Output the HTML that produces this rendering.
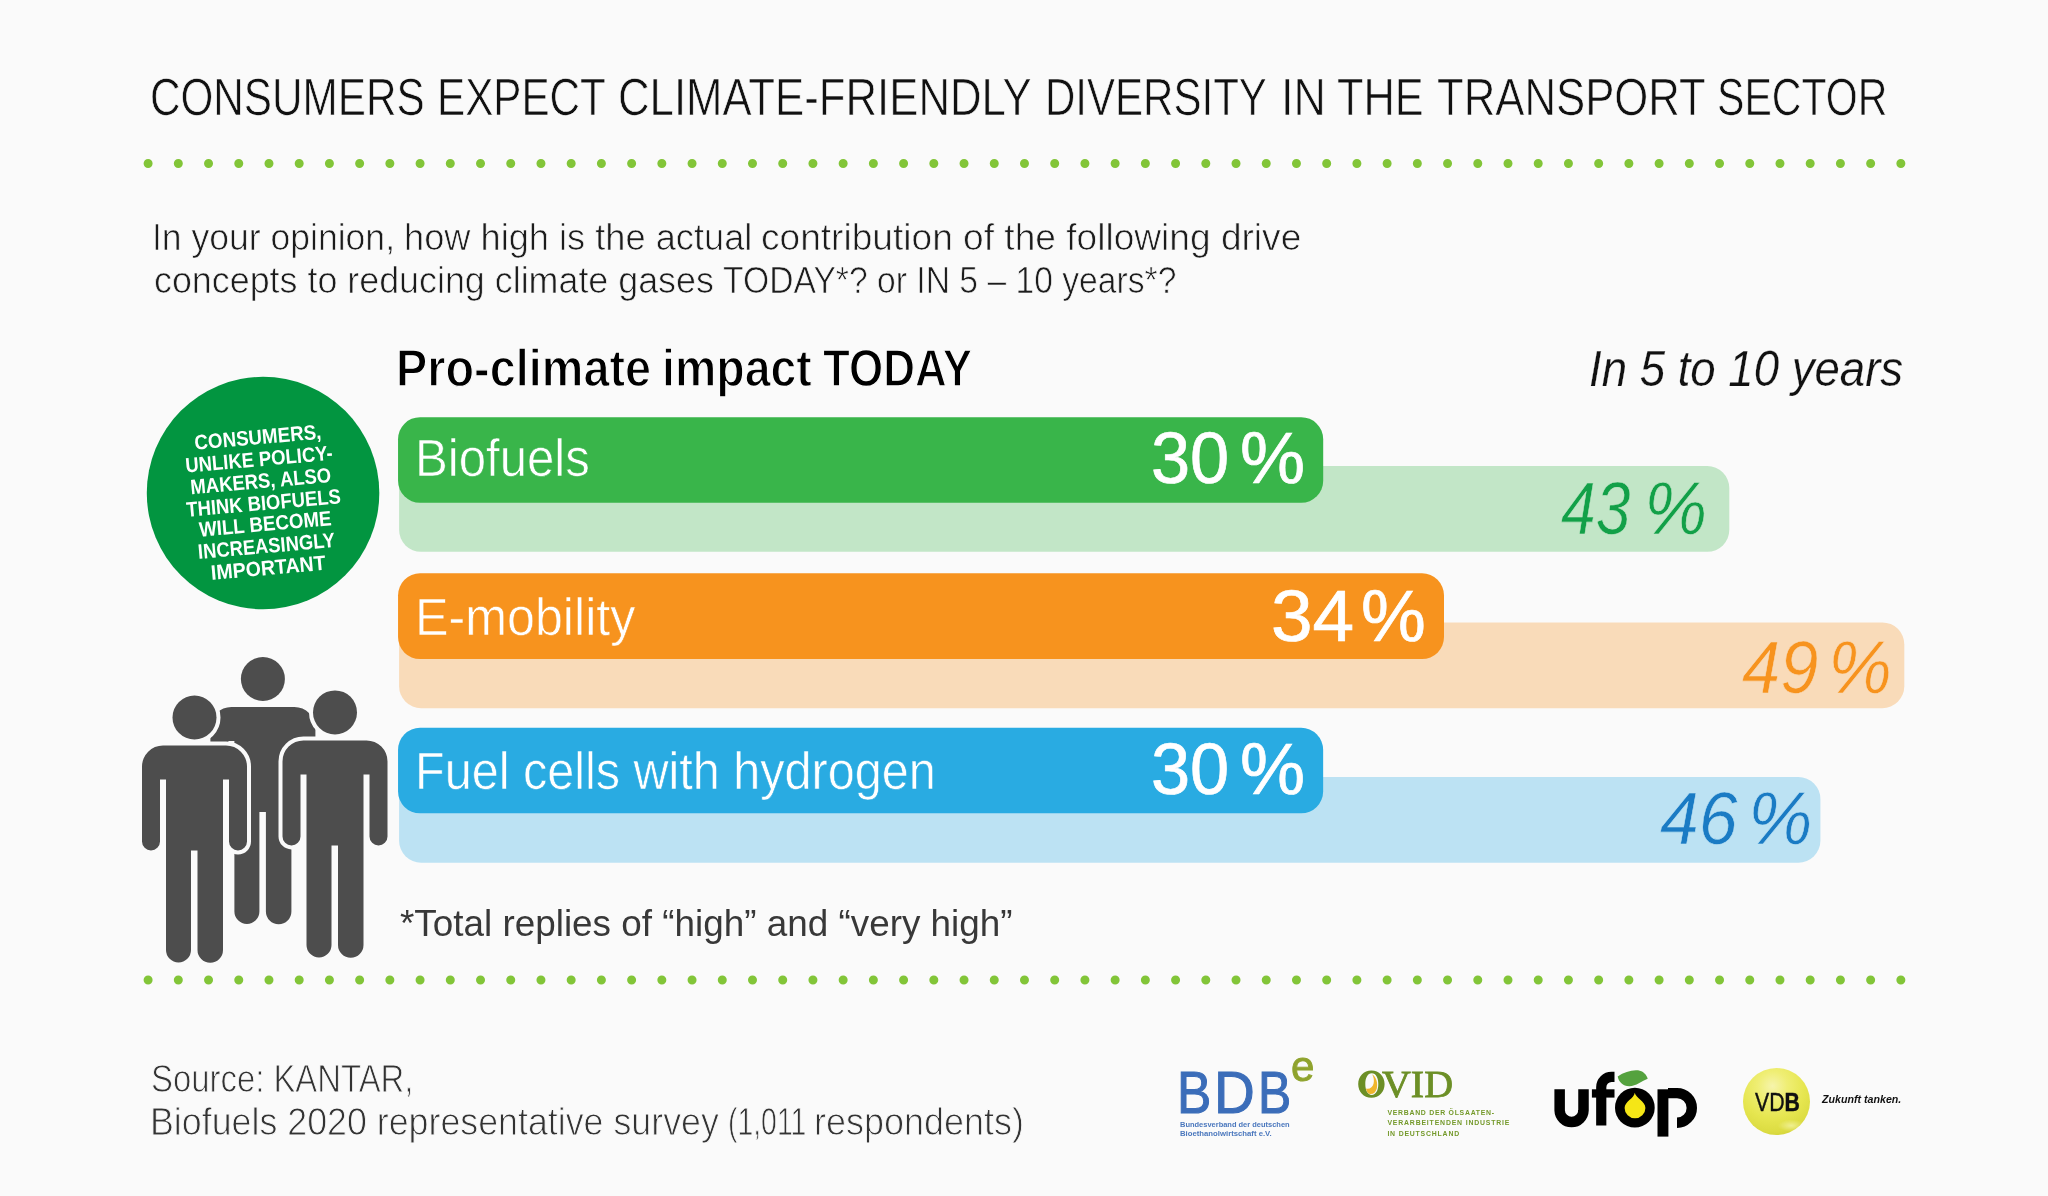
<!DOCTYPE html>
<html lang="en">
<head>
<meta charset="utf-8">
<title>Consumers expect climate-friendly diversity in the transport sector</title>
<style>
html,body{margin:0;padding:0;}
body{background:#fafafa;width:2048px;height:1196px;overflow:hidden;font-family:"Liberation Sans",sans-serif;}
#page{position:absolute;left:0;top:0;width:2048px;height:1196px;overflow:hidden;will-change:transform;}
.t{position:absolute;white-space:nowrap;line-height:1;transform-origin:0 0;color:#111;}
svg{position:absolute;overflow:visible;}

</style>
</head>
<body>
<div id="page">
<!-- dotted rules -->
<svg width="2048" height="1196" viewBox="0 0 2048 1196" style="left:0;top:0">
  <line x1="148.1" y1="163.5" x2="1901.5" y2="163.5" stroke="#82c538" stroke-width="9" stroke-linecap="round" stroke-dasharray="0 30.22"/>
  <line x1="148.1" y1="980" x2="1901.5" y2="980" stroke="#82c538" stroke-width="9" stroke-linecap="round" stroke-dasharray="0 30.22"/>
</svg>

<!-- bars: light (future) first, then solid (today) -->
<svg width="2048" height="1196" viewBox="0 0 2048 1196" style="left:0;top:0">
  <rect x="399.1" y="466.05" width="1330.2" height="85.8" rx="22" fill="#c2e6c7"/>
  <rect x="398.05" y="417.2" width="925.15" height="85.6" rx="22" fill="#39b54a"/>
  <rect x="399.1" y="622.4" width="1505.2" height="85.8" rx="22" fill="#f9dbb9"/>
  <rect x="398.05" y="573.3" width="1045.95" height="85.8" rx="22" fill="#f7931e"/>
  <rect x="399.1" y="777" width="1421.3" height="85.7" rx="22" fill="#bce2f3"/>
  <rect x="398.05" y="727.85" width="925.1" height="85.5" rx="22" fill="#29abe2"/>
</svg>

<!-- green badge -->
<svg width="2048" height="1196" viewBox="0 0 2048 1196" style="left:0;top:0"><circle cx="263.05" cy="493.05" r="116.25" fill="#029540"/></svg>

<!-- people -->
<svg width="2048" height="1196" viewBox="0 0 2048 1196" style="left:0;top:0">
  <defs>
    <g id="person">
      <circle cx="52.5" cy="-28" r="22"/>
      <path d="M21,0 H84 A21,21 0 0 1 105,21 V96 A9,9 0 0 1 87,96 V34 H81 V204.5 A12.75,12.75 0 0 1 55.5,204.5 V105 H49 V204.5 A12.5,12.5 0 0 1 24,204.5 V34 H18 V96 A9,9 0 0 1 0,96 V21 A21,21 0 0 1 21,0 Z"/>
    </g>
  </defs>
  <use href="#person" x="210.4" y="707" fill="#4d4d4d"/>
  <use href="#person" x="142" y="745.5" fill="#4d4d4d" stroke="#fafafa" stroke-width="8" paint-order="stroke"/>
  <use href="#person" x="282.5" y="740.4" fill="#4d4d4d" stroke="#fafafa" stroke-width="8" paint-order="stroke"/>
</svg>

<!-- logos -->
<div style="position:absolute;left:1742.9px;top:1067.8px;width:67.6px;height:67.6px;border-radius:50%;background:radial-gradient(ellipse 20% 9% at 72% 86%,rgba(246,245,170,.75) 0%,rgba(246,245,170,0) 100%),radial-gradient(circle at 44% 27%,#f6f4ac 0%,#efee74 24%,#e6e650 52%,#dcdc42 74%,#cbcc32 90%,#b9ba28 100%)"></div>
<svg width="2048" height="1196" viewBox="0 0 2048 1196" style="left:0;top:0">
  <!-- OVID: O ring with drop -->
  <path fill="#6c8f26" fill-rule="evenodd" d="M1371.4,1070.4 C1379.2,1070.4 1384.6,1076.2 1384.6,1084.1 C1384.6,1092 1379.2,1097.8 1371.4,1097.8 C1363.6,1097.8 1358.2,1092 1358.2,1084.1 C1358.2,1076.2 1363.6,1070.4 1371.4,1070.4 Z M1371.8,1073.2 C1367.6,1073.2 1365.3,1078 1365.3,1084.1 C1365.3,1090.2 1367.6,1095 1371.8,1095 C1376,1095 1378.3,1090.2 1378.3,1084.1 C1378.3,1078 1376,1073.2 1371.8,1073.2 Z"/>
  <path fill="#f0b62c" d="M1372.2,1074.2 C1376.5,1077.5 1378,1083 1376.8,1088.5 C1375.8,1092.5 1372.8,1094.6 1369.8,1094 C1367.6,1093.4 1366.3,1091 1366,1088.6 C1369.5,1089.6 1372.6,1087.6 1373.6,1083.6 C1374.3,1080.5 1373.8,1077 1372.2,1074.2 Z"/>
  <!-- ufop -->
  <g fill="none" stroke="#000" stroke-width="10.5">
    <path d="M1559.65,1089.3 V1110.4 A11.93,11.93 0 0 0 1583.5,1110.4 V1089.3"/>
    <path d="M1614.5,1076.9 H1611.6 A10.3,10.3 0 0 0 1601.25,1087.2 V1125.6" stroke-width="10.2"/>
    <path d="M1668,1093.1 H1677 A14.8,14.8 0 0 1 1677,1122.7" stroke-width="10.4"/>
  </g>
  <rect x="1591.9" y="1089.3" width="22.6" height="8.3" fill="#000"/>
  <rect x="1657.5" y="1089.3" width="10.9" height="47.3" fill="#000"/>
  <circle cx="1634.85" cy="1107.65" r="19.85" fill="#000"/>
  <path fill="#f5e616" d="M1634.8,1092.8 C1635.4,1097.8 1645.4,1101.3 1645.4,1107.9 A10.4,10.4 0 0 1 1624.6,1107.9 C1624.6,1101.6 1634,1098.6 1634.8,1092.8 Z"/>
  <path fill="#54a23e" d="M1617.7,1076.4 C1624,1072 1632,1069.6 1638,1070.3 C1643,1071 1646.5,1074.5 1647.7,1078.7 C1642,1081 1636,1086 1629.4,1086.2 C1623,1086.3 1618.5,1081.5 1617.7,1076.4 Z"/>
</svg>

<div class="t" style="left:149.5px;top:71px;font-size:52px;transform:scaleX(0.8123);color:#111;-webkit-text-stroke:0.7px #fafafa;">CONSUMERS</div>
<div class="t" style="left:437.1px;top:71px;font-size:52px;transform:scaleX(0.8117);color:#111;-webkit-text-stroke:0.7px #fafafa;">EXPECT</div>
<div class="t" style="left:618.1px;top:71px;font-size:52px;transform:scaleX(0.8408);color:#111;-webkit-text-stroke:0.7px #fafafa;">CLIMATE-FRIENDLY</div>
<div class="t" style="left:1044.5px;top:71px;font-size:52px;transform:scaleX(0.8083);color:#111;-webkit-text-stroke:0.7px #fafafa;">DIVERSITY</div>
<div class="t" style="left:1280.8px;top:71px;font-size:52px;transform:scaleX(0.8617);color:#111;-webkit-text-stroke:0.7px #fafafa;">IN</div>
<div class="t" style="left:1337.4px;top:71px;font-size:52px;transform:scaleX(0.8330);color:#111;-webkit-text-stroke:0.7px #fafafa;">THE</div>
<div class="t" style="left:1436.5px;top:71px;font-size:52px;transform:scaleX(0.8406);color:#111;-webkit-text-stroke:0.7px #fafafa;">TRANSPORT</div>
<div class="t" style="left:1717.3px;top:71px;font-size:52px;transform:scaleX(0.7894);color:#111;-webkit-text-stroke:0.7px #fafafa;">SECTOR</div>
<div class="t" style="left:152.1px;top:220px;font-size:36px;transform:scaleX(0.9872);color:#1c1c1c;-webkit-text-stroke:0.7px #fafafa;">In your opinion,</div>
<div class="t" style="left:403.7px;top:220px;font-size:36px;transform:scaleX(1.0061);color:#1c1c1c;-webkit-text-stroke:0.7px #fafafa;">how high is the actual</div>
<div class="t" style="left:761.0px;top:220px;font-size:36px;transform:scaleX(1.0305);color:#1c1c1c;-webkit-text-stroke:0.7px #fafafa;">contribution of the following drive</div>
<div class="t" style="left:153.6px;top:263px;font-size:36px;transform:scaleX(0.9957);color:#1c1c1c;-webkit-text-stroke:0.7px #fafafa;">concepts to reducing climate gases</div>
<div class="t" style="left:723.0px;top:263px;font-size:36px;transform:scaleX(0.9350);color:#1c1c1c;-webkit-text-stroke:0.7px #fafafa;">TODAY*? or IN 5 – 10 years*?</div>
<div class="t" style="left:395.9px;top:342px;font-size:52.2px;transform:scaleX(0.8976);color:#000;font-weight:bold;-webkit-text-stroke:1.3px #fafafa;">Pro-climate</div>
<div class="t" style="left:661.9px;top:342px;font-size:52.2px;transform:scaleX(0.8906);color:#000;font-weight:bold;-webkit-text-stroke:1.3px #fafafa;">impact</div>
<div class="t" style="left:822.6px;top:342px;font-size:52.2px;transform:scaleX(0.8426);color:#000;font-weight:bold;-webkit-text-stroke:1.3px #fafafa;">TODAY</div>
<div class="t" style="left:1589.1px;top:345px;font-size:49.6px;transform:scaleX(0.9190);color:#111;font-style:italic;-webkit-text-stroke:0.25px #fafafa;">In 5 to 10 years</div>
<div class="t" style="left:415.0px;top:433px;font-size:51px;transform:scaleX(0.9634);color:#fff;-webkit-text-stroke:0.6px #39b54a;">Biofuels</div>
<div class="t" style="left:415.0px;top:592px;font-size:51px;transform:scaleX(0.9842);color:#fff;-webkit-text-stroke:0.6px #f7931e;">E-mobility</div>
<div class="t" style="left:414.9px;top:746px;font-size:51px;transform:scaleX(0.9517);color:#fff;-webkit-text-stroke:0.6px #29abe2;">Fuel cells with hydrogen</div>
<div class="t" style="left:1151.2px;top:423px;font-size:71.4px;transform:scaleX(0.9852);color:#fff;-webkit-text-stroke:0.7px #fff;">30</div>
<div class="t" style="left:1239.6px;top:423px;font-size:71.4px;transform:scaleX(1.0254);color:#fff;-webkit-text-stroke:0.7px #fff;">%</div>
<div class="t" style="left:1270.7px;top:581px;font-size:71.4px;transform:scaleX(1.0475);color:#fff;-webkit-text-stroke:0.7px #fff;">34</div>
<div class="t" style="left:1361.2px;top:581px;font-size:71.4px;transform:scaleX(1.0203);color:#fff;-webkit-text-stroke:0.7px #fff;">%</div>
<div class="t" style="left:1151.2px;top:734px;font-size:71.4px;transform:scaleX(0.9852);color:#fff;-webkit-text-stroke:0.7px #fff;">30</div>
<div class="t" style="left:1239.6px;top:734px;font-size:71.4px;transform:scaleX(1.0254);color:#fff;-webkit-text-stroke:0.7px #fff;">%</div>
<div class="t" style="left:1561.3px;top:472px;font-size:74px;transform:scaleX(0.8423);color:#12a048;font-style:italic;-webkit-text-stroke:0.6px #c2e6c7;">43</div>
<div class="t" style="left:1643.7px;top:472px;font-size:74px;transform:scaleX(0.9603);color:#12a048;font-style:italic;-webkit-text-stroke:0.6px #c2e6c7;">%</div>
<div class="t" style="left:1742.1px;top:631px;font-size:74px;transform:scaleX(0.9266);color:#f7931e;font-style:italic;-webkit-text-stroke:0.6px #f9dbb9;">49</div>
<div class="t" style="left:1828.3px;top:631px;font-size:74px;transform:scaleX(0.9707);color:#f7931e;font-style:italic;-webkit-text-stroke:0.6px #f9dbb9;">%</div>
<div class="t" style="left:1660.2px;top:782px;font-size:74px;transform:scaleX(0.9416);color:#1a7bc4;font-style:italic;-webkit-text-stroke:0.6px #bce2f3;">46</div>
<div class="t" style="left:1748.4px;top:782px;font-size:74px;transform:scaleX(0.9793);color:#1a7bc4;font-style:italic;-webkit-text-stroke:0.6px #bce2f3;">%</div>
<div class="t" style="left:400.4px;top:906px;font-size:36px;transform:scaleX(1.0239);color:#383838;">*Total replies of “high” and “very high”</div>
<div class="t" style="left:150.7px;top:1060px;font-size:38px;transform:scaleX(0.8652);color:#333;-webkit-text-stroke:0.9px #fafafa;">Source: KANTAR,</div>
<div class="t" style="left:149.7px;top:1103px;font-size:38px;transform:scaleX(0.9416);color:#333;-webkit-text-stroke:0.9px #fafafa;">Biofuels 2020 representative survey</div>
<div class="t" style="left:727.5px;top:1103px;font-size:38px;transform:scaleX(0.7466);color:#333;-webkit-text-stroke:0.9px #fafafa;">(1,011</div>
<div class="t" style="left:814.1px;top:1103px;font-size:38px;transform:scaleX(0.9466);color:#333;-webkit-text-stroke:0.9px #fafafa;">respondents)</div>
<div style="position:absolute;left:0;top:0;width:2048px;height:1196px;transform:rotate(-5deg);transform-origin:263.2px 503px;">
<div class="t" style="left:199.9px;top:427px;font-size:20.8px;transform:scaleX(0.9023);color:#fff;font-weight:bold;">CONSUMERS,</div>
<div class="t" style="left:189.0px;top:449px;font-size:20.8px;transform:scaleX(0.8866);color:#fff;font-weight:bold;">UNLIKE POLICY-</div>
<div class="t" style="left:191.9px;top:471px;font-size:20.8px;transform:scaleX(0.8896);color:#fff;font-weight:bold;">MAKERS, ALSO</div>
<div class="t" style="left:185.7px;top:493px;font-size:20.8px;transform:scaleX(0.8878);color:#fff;font-weight:bold;">THINK BIOFUELS</div>
<div class="t" style="left:196.6px;top:514px;font-size:20.8px;transform:scaleX(0.9000);color:#fff;font-weight:bold;">WILL BECOME</div>
<div class="t" style="left:194.1px;top:536px;font-size:20.8px;transform:scaleX(0.8843);color:#fff;font-weight:bold;">INCREASINGLY</div>
<div class="t" style="left:205.1px;top:558px;font-size:20.8px;transform:scaleX(0.9426);color:#fff;font-weight:bold;">IMPORTANT</div>
</div>
<div class="t" style="left:1176.9px;top:1064px;font-size:58.4px;transform:scaleX(0.8812);color:#3b6db9;-webkit-text-stroke:1.1px #3b6db9;">B</div>
<div class="t" style="left:1213.7px;top:1064px;font-size:58.4px;transform:scaleX(0.9667);color:#3b6db9;-webkit-text-stroke:1.1px #3b6db9;">D</div>
<div class="t" style="left:1258.1px;top:1064px;font-size:58.4px;transform:scaleX(0.8531);color:#3b6db9;-webkit-text-stroke:1.1px #3b6db9;">B</div>
<div class="t" style="left:1291.2px;top:1046px;font-size:42.5px;transform:scaleX(0.9905);color:#8fa32d;-webkit-text-stroke:0.9px #8fa32d;">e</div>
<div class="t" style="left:1180.0px;top:1121px;font-size:7.6px;transform:scaleX(0.9842);color:#4a77bd;font-weight:bold;">Bundesverband der deutschen</div>
<div class="t" style="left:1180.0px;top:1130px;font-size:7.6px;transform:scaleX(1.0188);color:#4a77bd;font-weight:bold;">Bioethanolwirtschaft e.V.</div>
<div class="t" style="left:1382.4px;top:1065px;font-size:38.6px;font-family:'Liberation Serif', serif;transform:scaleX(1.0353);color:#6c8f26;-webkit-text-stroke:0.8px #6c8f26;">VID</div>
<div class="t" style="left:1387.4px;top:1110px;font-size:6.9px;letter-spacing:0.728px;color:#74992a;font-weight:bold;">VERBAND DER ÖLSAATEN-</div>
<div class="t" style="left:1387.4px;top:1120px;font-size:6.9px;letter-spacing:0.827px;color:#74992a;font-weight:bold;">VERARBEITENDEN INDUSTRIE</div>
<div class="t" style="left:1387.4px;top:1131px;font-size:6.9px;letter-spacing:0.810px;color:#74992a;font-weight:bold;">IN DEUTSCHLAND</div>
<div class="t" style="left:1755.2px;top:1090px;font-size:25px;transform:scaleX(0.8521);color:#111;-webkit-text-stroke:0.4px #111;">VD<b>B</b></div>
<div class="t" style="left:1821.8px;top:1094px;font-size:10.7px;transform:scaleX(0.9964);color:#111;font-weight:bold;font-style:italic;">Zukunft tanken.</div>
</div>
</body>
</html>
